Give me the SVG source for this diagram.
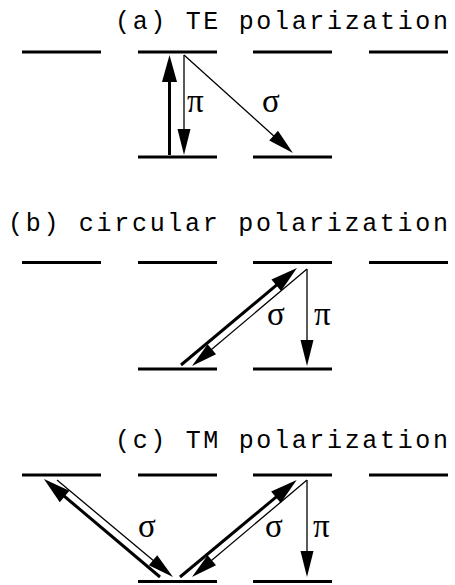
<svg xmlns="http://www.w3.org/2000/svg" width="455" height="585" viewBox="0 0 455 585">
<style>
.title{font-family:"Liberation Mono","Courier New",monospace;font-size:25px;fill:#000}
.lbl{font-family:"Liberation Serif","Times New Roman",serif;font-size:33px;fill:#000}
.lev{stroke:#000;stroke-width:3;fill:none}
.thick{stroke:#000;stroke-width:3;fill:none;marker-end:url(#hT)}
.thin{stroke:#000;stroke-width:1.3;fill:none;marker-end:url(#hN)}
</style>
<defs>
<marker id="hT" markerUnits="userSpaceOnUse" markerWidth="30" markerHeight="18" refX="17" refY="7.5" orient="auto" overflow="visible">
<path d="M0,0 L27,7.5 L0,15 z" fill="#000"/>
</marker>
<marker id="hN" markerUnits="userSpaceOnUse" markerWidth="30" markerHeight="16" refX="16" refY="6.5" orient="auto" overflow="visible">
<path d="M0,0 L26,6.5 L0,13 z" fill="#000"/>
</marker>
</defs>

<g id="panel-a">
<text class="title" x="115" y="28.5" textLength="333" lengthAdjust="spacing">(a) TE polarization</text>
<g id="a-levels">
<line class="lev" x1="22" y1="52" x2="101" y2="52"/>
<line class="lev" x1="138" y1="52" x2="217" y2="52"/>
<line class="lev" x1="253" y1="52" x2="332" y2="52"/>
<line class="lev" x1="369" y1="52" x2="448" y2="52"/>
<line class="lev" x1="138" y1="157" x2="217" y2="157"/>
<line class="lev" x1="253" y1="157" x2="332" y2="157"/>
</g>
</g>

<g id="panel-b">
<text class="title" x="8" y="230.5" textLength="440" lengthAdjust="spacing">(b) circular polarization</text>
<g id="b-levels">
<line class="lev" x1="22" y1="262.5" x2="101" y2="262.5"/>
<line class="lev" x1="138" y1="262.5" x2="217" y2="262.5"/>
<line class="lev" x1="253" y1="262.5" x2="332" y2="262.5"/>
<line class="lev" x1="369" y1="262.5" x2="448" y2="262.5"/>
<line class="lev" x1="138" y1="369" x2="217" y2="369"/>
<line class="lev" x1="253" y1="369" x2="332" y2="369"/>
</g>
</g>

<g id="panel-c">
<text class="title" x="115" y="448" textLength="333" lengthAdjust="spacing">(c) TM polarization</text>
<g id="c-levels">
<line class="lev" x1="22" y1="475" x2="101" y2="475"/>
<line class="lev" x1="138" y1="475" x2="217" y2="475"/>
<line class="lev" x1="253" y1="475" x2="332" y2="475"/>
<line class="lev" x1="369" y1="475" x2="448" y2="475"/>
<line class="lev" x1="138" y1="581.5" x2="217" y2="581.5"/>
<line class="lev" x1="253" y1="581.5" x2="332" y2="581.5"/>
</g>
</g>

<g id="connectors">
<line class="thick" x1="169.5" y1="155" x2="169.5" y2="65"/>
<line class="thin" x1="184" y1="55" x2="184" y2="145"/>
<line class="thin" x1="184" y1="55" x2="285.5" y2="146.4"/>

<line class="thick" x1="181" y1="365" x2="289.3" y2="274.4"/>
<line class="thin" x1="307" y1="269" x2="199.6" y2="359.6"/>
<line class="thin" x1="307" y1="269" x2="307" y2="356"/>

<line class="thick" x1="160" y1="577" x2="51.6" y2="485.5"/>
<line class="thin" x1="57" y1="480" x2="165.3" y2="570.6"/>
<line class="thick" x1="180" y1="577" x2="289" y2="486.3"/>
<line class="thin" x1="307" y1="480" x2="199.6" y2="570.6"/>
<line class="thin" x1="307" y1="480" x2="307" y2="567"/>
</g>

<g id="labels">
<text class="lbl" x="187" y="112">π</text>
<text class="lbl" x="262" y="112">σ</text>
<text class="lbl" x="267" y="325">σ</text>
<text class="lbl" x="314" y="325">π</text>
<text class="lbl" x="138" y="537">σ</text>
<text class="lbl" x="265" y="537">σ</text>
<text class="lbl" x="313" y="537">π</text>
</g>
</svg>
